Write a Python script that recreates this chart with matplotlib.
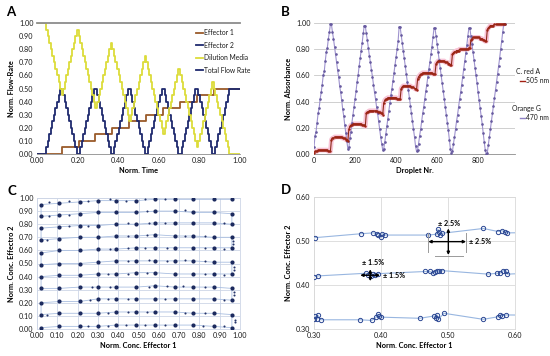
import numpy as np
import matplotlib
matplotlib.use("Agg")
import matplotlib.pyplot as plt
from matplotlib.lines import Line2D
from matplotlib.ticker import FormatStrFormatter

# ---- panel A: flow program (one value per time step) ----
effector2 = [
    0.0, 0.0, 0.0, 0.0, 0.0, 0.0,
    0.05, 0.10, 0.15, 0.20, 0.25, 0.30, 0.35, 0.40, 0.45, 0.50, 0.50,
    0.45, 0.40, 0.35, 0.30, 0.25, 0.20, 0.15, 0.10, 0.05, 0.00, 0.00,
    0.05, 0.10, 0.15, 0.20, 0.25, 0.30, 0.35, 0.40, 0.45, 0.50, 0.50,
    0.45, 0.40, 0.35, 0.30, 0.25, 0.20, 0.15, 0.10, 0.05, 0.00, 0.00,
    0.05, 0.10, 0.15, 0.20, 0.25, 0.30, 0.35, 0.40, 0.45, 0.50, 0.50,
    0.45, 0.40, 0.35, 0.30, 0.25, 0.20, 0.15, 0.10, 0.05, 0.00, 0.00,
    0.05, 0.10, 0.15, 0.20, 0.25, 0.30, 0.35, 0.40, 0.45, 0.50, 0.50,
    0.45, 0.40, 0.35, 0.30, 0.25, 0.20, 0.15, 0.10, 0.05, 0.00, 0.00,
    0.05, 0.10, 0.15, 0.20, 0.25, 0.30, 0.35, 0.40, 0.45, 0.50, 0.50,
    0.45, 0.40, 0.35, 0.30, 0.25, 0.20, 0.15, 0.10, 0.05, 0.00, 0.00,
    0.05, 0.10, 0.15, 0.20, 0.25, 0.30, 0.35, 0.40, 0.45, 0.50,
    0.50, 0.50, 0.50, 0.50, 0.50, 0.50, 0.50,
]
effector1 = ([0.0] * 16 + [0.05] * 11 + [0.10] * 11 + [0.15] * 11 + [0.20] * 11 + [0.25] * 11
             + [0.30] * 11 + [0.35] * 11 + [0.40] * 11 + [0.45] * 11 + [0.50] * 18)
total_flow = [1.0] * 133

# ---- panel B: absorbance per droplet (every 5th droplet) ----
orange_g = [
    0.05, 0.14, 0.17, 0.24, 0.31, 0.35, 0.42, 0.47, 0.53, 0.60, 0.63, 0.71, 0.78, 0.81, 0.88, 0.93, 0.99, 0.99,
    0.93, 0.88, 0.82, 0.76, 0.70, 0.64, 0.59, 0.52, 0.47, 0.41, 0.34, 0.29, 0.22, 0.16, 0.10, 0.04,
    0.05, 0.12, 0.17, 0.24, 0.30, 0.36, 0.42, 0.48, 0.55, 0.60, 0.67, 0.73, 0.79, 0.85, 0.92, 0.98, 0.98,
    0.92, 0.87, 0.81, 0.75, 0.70, 0.64, 0.59, 0.53, 0.47, 0.42, 0.36, 0.31, 0.25, 0.19, 0.13, 0.08, 0.03,
    0.04, 0.09, 0.15, 0.21, 0.27, 0.33, 0.39, 0.45, 0.50, 0.56, 0.62, 0.68, 0.74, 0.80, 0.86, 0.97, 0.97,
    0.91, 0.85, 0.79, 0.73, 0.67, 0.61, 0.55, 0.49, 0.43, 0.37, 0.31, 0.25, 0.19, 0.13, 0.06, 0.02,
    0.03, 0.08, 0.14, 0.19, 0.25, 0.31, 0.36, 0.42, 0.48, 0.53, 0.59, 0.65, 0.70, 0.76, 0.82, 0.89, 0.96, 0.96,
    0.90, 0.84, 0.78, 0.72, 0.66, 0.60, 0.54, 0.48, 0.42, 0.36, 0.30, 0.24, 0.18, 0.11, 0.04, 0.01,
    0.02, 0.08, 0.13, 0.19, 0.25, 0.30, 0.36, 0.42, 0.47, 0.53, 0.59, 0.65, 0.71, 0.77, 0.83, 0.90, 0.96, 0.96,
    0.90, 0.84, 0.78, 0.72, 0.66, 0.60, 0.54, 0.47, 0.41, 0.35, 0.29, 0.23, 0.16, 0.09, 0.03, 0.00,
    0.01, 0.07, 0.13, 0.19, 0.25, 0.31, 0.37, 0.43, 0.49, 0.55, 0.61, 0.67, 0.73, 0.80, 0.86, 0.93, 0.99, 0.99,
]
c_red_a = [
    0.01, 0.02, 0.02, 0.02, 0.03, 0.03, 0.03, 0.03, 0.03, 0.03, 0.03, 0.03, 0.03, 0.03, 0.02, 0.02, 0.02,
    0.11, 0.12, 0.12, 0.13, 0.13, 0.13, 0.13, 0.13, 0.13, 0.13, 0.13, 0.12, 0.12, 0.12, 0.11, 0.11, 0.10,
    0.19, 0.21, 0.22, 0.22, 0.23, 0.23, 0.23, 0.23, 0.23, 0.23, 0.23, 0.23, 0.23, 0.22, 0.22, 0.22, 0.21,
    0.31, 0.32, 0.32, 0.33, 0.33, 0.33, 0.33, 0.33, 0.33, 0.33, 0.33, 0.32, 0.32, 0.32, 0.31, 0.31, 0.30,
    0.39, 0.41, 0.42, 0.42, 0.43, 0.43, 0.43, 0.43, 0.43, 0.43, 0.43, 0.43, 0.43, 0.42, 0.42, 0.42, 0.42,
    0.50, 0.51, 0.52, 0.52, 0.52, 0.52, 0.52, 0.52, 0.52, 0.52, 0.51, 0.51, 0.51, 0.50, 0.50, 0.49,
    0.57, 0.59, 0.60, 0.61, 0.61, 0.62, 0.62, 0.62, 0.62, 0.62, 0.62, 0.62, 0.62, 0.62, 0.62, 0.61, 0.61, 0.61,
    0.69, 0.70, 0.71, 0.71, 0.71, 0.71, 0.71, 0.71, 0.71, 0.70, 0.70, 0.70, 0.69, 0.69, 0.68, 0.68,
    0.76, 0.77, 0.78, 0.78, 0.79, 0.79, 0.79, 0.80, 0.80, 0.80, 0.80, 0.80, 0.80, 0.80, 0.80, 0.80, 0.81, 0.81,
    0.87, 0.88, 0.89, 0.89, 0.89, 0.89, 0.89, 0.89, 0.89, 0.88, 0.88, 0.88, 0.87, 0.87, 0.86, 0.86,
    0.95, 0.96, 0.97, 0.98, 0.98, 0.98, 0.98, 0.99, 0.99, 0.99, 0.99, 0.99, 0.99, 0.99, 0.99, 0.99, 0.99, 0.99,
]

# ---- panel C: cluster positions (columns = effector 1, rows = effector 2) ----
c_cols = [0.02, 0.11, 0.21, 0.30, 0.39, 0.49, 0.58, 0.68, 0.77, 0.87, 0.96]
c_rows = [
    [0.01, 0.02, 0.02, 0.02, 0.03, 0.03, 0.03, 0.03, 0.03, 0.02, 0.01],
    [0.11, 0.12, 0.12, 0.12, 0.13, 0.13, 0.13, 0.13, 0.12, 0.12, 0.11],
    [0.20, 0.21, 0.21, 0.23, 0.23, 0.23, 0.23, 0.23, 0.23, 0.23, 0.22],
    [0.31, 0.31, 0.32, 0.32, 0.32, 0.32, 0.33, 0.32, 0.32, 0.32, 0.31],
    [0.40, 0.41, 0.41, 0.42, 0.42, 0.43, 0.43, 0.42, 0.42, 0.42, 0.42],
    [0.49, 0.50, 0.50, 0.51, 0.52, 0.52, 0.52, 0.52, 0.52, 0.51, 0.51],
    [0.58, 0.60, 0.60, 0.61, 0.61, 0.62, 0.62, 0.62, 0.62, 0.62, 0.62],
    [0.68, 0.69, 0.70, 0.70, 0.71, 0.71, 0.72, 0.71, 0.71, 0.70, 0.70],
    [0.77, 0.78, 0.79, 0.79, 0.80, 0.80, 0.81, 0.81, 0.81, 0.81, 0.80],
    [0.86, 0.87, 0.88, 0.89, 0.89, 0.89, 0.90, 0.90, 0.89, 0.89, 0.88],
    [0.95, 0.96, 0.97, 0.98, 0.98, 0.98, 0.99, 0.99, 0.99, 0.99, 0.99],
]
c_dots_x = [0.25, 0.35, 0.44, 0.53, 0.63, 0.82, 0.92, 0.975, 0.975,
            0.05, 0.35, 0.45, 0.54, 0.73, 0.83,
            0.26, 0.35, 0.45, 0.63, 0.92, 0.97, 0.97,
            0.27, 0.36, 0.55, 0.64, 0.72, 0.83,
            0.35, 0.45, 0.54, 0.83, 0.92, 0.97, 0.97,
            0.45, 0.55, 0.64, 0.73, 0.83,
            0.36, 0.45, 0.53, 0.64, 0.83, 0.92, 0.965, 0.965,
            0.05, 0.45, 0.54, 0.73, 0.83,
            0.16, 0.25, 0.45, 0.55, 0.63, 0.92,
            0.06, 0.16, 0.54, 0.73,
            0.06, 0.16, 0.25, 0.36, 0.44, 0.53, 0.63]
c_dots_y = [0.02, 0.02, 0.03, 0.03, 0.03, 0.02, 0.02, 0.05, 0.07,
            0.11, 0.12, 0.13, 0.13, 0.12, 0.12,
            0.22, 0.23, 0.23, 0.23, 0.22, 0.26, 0.28,
            0.32, 0.32, 0.32, 0.33, 0.33, 0.32,
            0.42, 0.42, 0.43, 0.42, 0.41, 0.45, 0.47,
            0.52, 0.53, 0.52, 0.53, 0.52,
            0.61, 0.62, 0.62, 0.62, 0.62, 0.61, 0.65, 0.67,
            0.68, 0.71, 0.72, 0.71, 0.71,
            0.79, 0.79, 0.81, 0.81, 0.81, 0.81,
            0.86, 0.87, 0.90, 0.91,
            0.97, 0.98, 0.98, 0.99, 0.98, 0.99, 0.99]

# ---- panel D: zoomed droplets, three effector-2 levels ----
d_top_x = [0.301, 0.370, 0.3886, 0.3935, 0.396, 0.400, 0.402, 0.406, 0.4707, 0.4832, 0.4848, 0.4873,
           0.4882, 0.4913, 0.5527, 0.575, 0.580, 0.585, 0.5875, 0.67]
d_top_y = [0.508, 0.517, 0.519, 0.517, 0.514, 0.509, 0.517, 0.514, 0.514, 0.516, 0.527, 0.522,
           0.514, 0.518, 0.529, 0.522, 0.524, 0.522, 0.519, 0.52]
d_mid_x = [0.300, 0.3065, 0.378, 0.381, 0.385, 0.388, 0.391, 0.395, 0.466, 0.473, 0.477, 0.481,
           0.484, 0.487, 0.491, 0.560, 0.5735, 0.578, 0.5825, 0.5866, 0.5886, 0.67]
d_mid_y = [0.419, 0.421, 0.427, 0.423, 0.420, 0.425, 0.422, 0.426, 0.431, 0.431, 0.427, 0.429,
           0.432, 0.431, 0.433, 0.425, 0.427, 0.428, 0.433, 0.433, 0.425, 0.43]
d_bot_x = [0.300, 0.302, 0.304, 0.3055, 0.310, 0.369, 0.386, 0.393, 0.395, 0.397, 0.400, 0.458,
           0.479, 0.482, 0.484, 0.4855, 0.494, 0.5527, 0.575, 0.5776, 0.581, 0.587, 0.67]
d_bot_y = [0.323, 0.329, 0.3225, 0.332, 0.321, 0.321, 0.3195, 0.327, 0.334, 0.330, 0.327, 0.3244,
           0.3296, 0.3258, 0.332, 0.322, 0.3358, 0.322, 0.328, 0.332, 0.330, 0.332, 0.331]

W, H = 550, 356
TXT = "#1a1a1a"
plt.rcParams.update({
    "font.family": ["Lato", "DejaVu Sans"], "font.size": 5.2,
    "axes.linewidth": 0.6, "xtick.color": TXT, "ytick.color": TXT,
})


def box(x0, y0, x1, y1):
    # pixel box (top-left origin) -> figure fraction rect
    return [x0 / W, 1 - y1 / H, (x1 - x0) / W, (y1 - y0) / H]


def style(ax, xlabel, ylabel):
    ax.tick_params(length=0, pad=2.5, labelsize=5.2)
    ax.set_xlabel(xlabel, fontweight="bold", fontsize=5.3, labelpad=2)
    ax.set_ylabel(ylabel, fontweight="bold", fontsize=5.3, labelpad=3)


fig = plt.figure(figsize=(W / 100, H / 100), dpi=100)

# ---------------- A ----------------
axA = fig.add_axes(box(37, 23, 240, 154))
time = np.linspace(0, 1, len(effector2))
dilution = np.array(total_flow) - np.array(effector1) - np.array(effector2)
series_a = [("Effector 1", effector1, "#9A5A2A"),
            ("Effector 2", effector2, "#1F2A6E"),
            ("Dilution Media", dilution, "#DCDC3A"),
            ("Total Flow Rate", total_flow, "#8C8C8C")]
for name, vals, col in series_a:
    axA.plot(time, vals, color=col, lw=1.3, drawstyle="steps-post", clip_on=(name != "Total Flow Rate"))
axA.set_xlim(0, 1)
axA.set_ylim(0, 1)
axA.set_xticks(np.arange(0, 1.01, 0.2))
axA.set_yticks(np.arange(0, 1.01, 0.1))
axA.xaxis.set_major_formatter(FormatStrFormatter("%.2f"))
axA.yaxis.set_major_formatter(FormatStrFormatter("%.2f"))
for s in ("top", "right", "left"):
    axA.spines[s].set_visible(False)
axA.spines["bottom"].set_color("#8c8c8c")
style(axA, "Norm. Time", "Norm. Flow-Rate")
legend_cols = ["#9A5A2A", "#1F2A6E", "#DCDC3A", "#1F2A6E"]
for i, ((name, _, _), col) in enumerate(zip(series_a, legend_cols)):
    y = 1 - (32.5 + 12.6 * i) / H
    fig.add_artist(Line2D([196 / W, 203 / W], [y, y], color=col, lw=1.3, transform=fig.transFigure))
    fig.text(203.5 / W, y, name, fontsize=4.9, va="center", color=TXT)

# ---------------- B ----------------
axB = fig.add_axes(box(314, 23, 515, 154))
droplet = np.arange(len(orange_g)) * 5
axB.plot(droplet, c_red_a, color="#F8C4D6", lw=3.4, solid_capstyle="butt", zorder=2)
axB.plot(droplet, orange_g, color="#9E92CE", lw=0.8, marker="o", ms=1.9, mew=0,
         mfc="#675A9F", zorder=3)
axB.plot(droplet, c_red_a, color="#8E2A1A", lw=0.8, marker="o", ms=1.7, mew=0,
         mfc="#9C2414", zorder=4)
axB.set_xlim(0, 980)
axB.set_ylim(0, 1)
axB.set_xticks([0, 200, 400, 600, 800])
axB.set_yticks(np.arange(0, 1.01, 0.2))
axB.yaxis.set_major_formatter(FormatStrFormatter("%.2f"))
axB.grid(axis="y", color="#c8c8c8", lw=0.6)
axB.set_axisbelow(True)
for s in ("top", "right", "left"):
    axB.spines[s].set_visible(False)
axB.spines["bottom"].set_color("#8c8c8c")
style(axB, "Droplet Nr.", "Norm. Absorbance")
for title, sub, y0, x0, col in [("C. red A", "505 nm", 71.5, 516.5, "#A32012"),
                                 ("Orange G", "470 nm", 108.5, 512.5, "#8E80C4")]:
    fig.text(x0 / W, 1 - y0 / H, title, fontsize=4.9, va="center", color=TXT)
    yy = 1 - (y0 + 9.3) / H
    fig.add_artist(Line2D([519.5 / W, 525 / W], [yy, yy], color=col, lw=1.0, transform=fig.transFigure))
    fig.text(526.5 / W, yy, sub, fontsize=4.9, va="center", color=TXT)

# ---------------- C ----------------
axC = fig.add_axes(box(37, 198, 240, 329))
path_x, path_y = [], []
for r, ys in enumerate(c_rows):
    order = range(len(c_cols)) if r % 2 == 0 else range(len(c_cols) - 1, -1, -1)
    for j in order:
        path_x.append(c_cols[j])
        path_y.append(ys[j])
axC.plot(path_x, path_y, color="#A9BEE0", lw=0.6, zorder=2)
axC.plot(c_dots_x, c_dots_y, ls="none", marker="o", ms=1.5, mew=0, color="#25346A", zorder=3)
axC.plot(path_x, path_y, ls="none", marker="o", ms=3.0, mew=0, color="#1C2A5E", zorder=4)
axC.set_xlim(0, 1)
axC.set_ylim(0, 1)
axC.set_xticks(np.arange(0, 1.01, 0.1))
axC.set_yticks(np.arange(0, 1.01, 0.1))
axC.xaxis.set_major_formatter(FormatStrFormatter("%.2f"))
axC.yaxis.set_major_formatter(FormatStrFormatter("%.2f"))
axC.grid(color="#cdd6e6", lw=0.6)
axC.set_axisbelow(True)
for s in axC.spines.values():
    s.set_color("#cdd6e6")
style(axC, "Norm. Conc. Effector 1", "Norm. Conc. Effectro 2")

# ---------------- D ----------------
axD = fig.add_axes(box(314, 197.3, 515, 329))
for xs, ys in [(d_top_x, d_top_y), (d_mid_x, d_mid_y), (d_bot_x, d_bot_y)]:
    axD.plot(xs, ys, color="#98B6E0", lw=0.8, zorder=2)
    axD.plot(xs, ys, ls="none", marker="o", ms=3.1, mfc="none", mec="#2B4793", mew=0.7, zorder=3)
axD.set_xlim(0.3, 0.6)
axD.set_ylim(0.3, 0.6)
axD.set_xticks([0.3, 0.4, 0.5, 0.6])
axD.set_yticks([0.3, 0.4, 0.5, 0.6])
axD.xaxis.set_major_formatter(FormatStrFormatter("%.2f"))
axD.yaxis.set_major_formatter(FormatStrFormatter("%.2f"))
axD.grid(color="#d9d9d9", lw=0.6)
axD.set_axisbelow(True)
for s in axD.spines.values():
    s.set_color("#d9d9d9")
style(axD, "Norm. Conc. Effector 1", "Norm. Conc. Effector 2")

arrow = dict(arrowstyle="<|-|>", color="black", lw=1.0, mutation_scale=4, shrinkA=0, shrinkB=0)
axD.annotate("", xy=(0.369, 0.4225), xytext=(0.3985, 0.4225), arrowprops=arrow, zorder=5)
axD.annotate("", xy=(0.384, 0.409), xytext=(0.384, 0.436), arrowprops=arrow, zorder=5)
axD.text(0.388, 0.452, "± 1.5%", fontsize=5.2, fontweight="bold", ha="center", va="center")
axD.text(0.403, 0.4215, "± 1.5%", fontsize=5.2, fontweight="bold", ha="left", va="center")
grey = dict(color="#9a9a9a", lw=0.7, zorder=4)
axD.plot([0.4706, 0.4706], [0.476, 0.519], **grey)
axD.plot([0.527, 0.527], [0.476, 0.519], **grey)
axD.plot([0.48, 0.522], [0.467, 0.467], **grey)
axD.annotate("", xy=(0.4706, 0.499), xytext=(0.527, 0.499), arrowprops=arrow, zorder=5)
axD.annotate("", xy=(0.5005, 0.4686), xytext=(0.5005, 0.529), arrowprops=arrow, zorder=5)
axD.text(0.502, 0.541, "± 2.5%", fontsize=5.2, fontweight="bold", ha="center", va="center")
axD.text(0.532, 0.499, "± 2.5%", fontsize=5.2, fontweight="bold", ha="left", va="center")

# panel letters
for letter, x, y in [("A", 10.5, 12.5), ("B", 285.5, 12.5), ("C", 11.5, 191), ("D", 286, 190.5)]:
    fig.text(x / W, 1 - y / H, letter, fontsize=9.5, fontweight="bold", ha="center", va="center")

fig.savefig("out.png", dpi=100)
